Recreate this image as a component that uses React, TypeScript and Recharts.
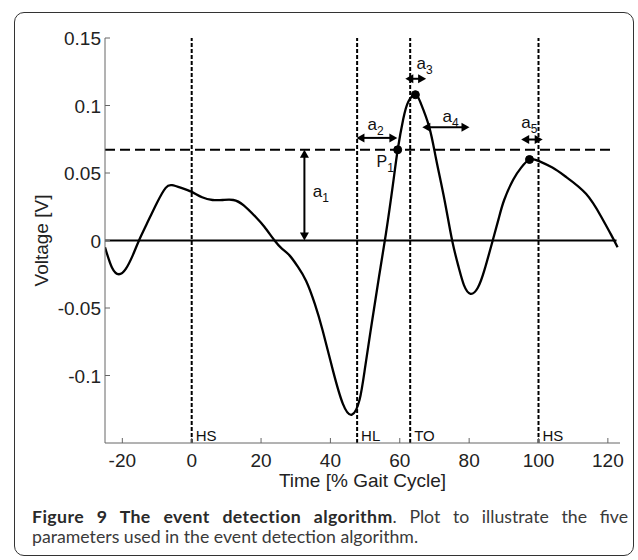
import React from "react";
import { ComposedChart, Line, XAxis, YAxis, ReferenceLine, ReferenceDot } from "recharts";

// gait signal
const timePct = [
  -25, -23, -21, -19, -17, -15.2, -13, -10, -7.5, -5.7, -3, 0, 3, 6, 9, 12, 15, 18.6, 21, 23.9,
  26, 28.2, 30.5, 33, 35.5, 37.8, 40.7, 43.6, 46.2, 48.4, 50, 52, 54, 56, 58, 59.4, 61, 62.5, 64.5,
  66, 68.5, 70.5, 72.9, 75.1, 77, 78.5, 80.4, 82.5, 84.4, 86.8, 88.5, 90.1, 92.7, 95, 97.4, 100,
  104, 108, 113.7, 118, 121, 122.8,
];
const voltage = [
  -0.005, -0.02, -0.025, -0.021, -0.011, 0, 0.012, 0.028, 0.039, 0.041, 0.039, 0.036, 0.032, 0.03,
  0.03, 0.03, 0.026, 0.017, 0.01, 0, -0.006, -0.011, -0.019, -0.03, -0.047, -0.067, -0.096, -0.121,
  -0.129, -0.118, -0.094, -0.06, -0.027, 0.005, 0.041, 0.0672, 0.09, 0.103, 0.108, 0.102, 0.084,
  0.06, 0.03, 0, -0.02, -0.033, -0.0395, -0.035, -0.022, 0, 0.016, 0.03, 0.045, 0.054, 0.06, 0.059,
  0.054, 0.047, 0.0346, 0.018, 0.004, -0.005,
];

const xTicks = [-20, 0, 20, 40, 60, 80, 100, 120];
const yTicks = [-0.1, -0.05, 0, 0.05, 0.1, 0.15];
const yTickLabels = ["-0.1", "-0.05", "0", "0.05", "0.1", "0.15"];

const eventTimes = [0, 47.7, 63, 100];
const eventNames = ["HS", "HL", "TO", "HS"];

const threshold = 0.0672;
const lineEnd = 122.5;
const thresholdEnd = 121.8;

// marked points: P1, main peak, second peak
const dotTimes = [59.4, 64.5, 97.4];
const dotVolts = [0.0672, 0.108, 0.06];

// double arrows a1..a5 (start / end in data units)
const arrowX1 = [32.5, 47.5, 61.6, 66.5, 95.0];
const arrowY1 = [0.0672, 0.076, 0.1198, 0.0839, 0.0748];
const arrowX2 = [32.5, 59.3, 67.6, 80.1, 101.2];
const arrowY2 = [0, 0.076, 0.1198, 0.0839, 0.0748];

// annotation texts
const labelMain = ["a", "a", "a", "a", "a", "P"];
const labelSub = ["1", "2", "3", "4", "5", "1"];
const labelTimes = [34.9, 50.7, 64.8, 72.3, 95.0, 53.3];
const labelVolts = [0.0319, 0.0815, 0.1274, 0.0875, 0.0837, 0.0541];

const data = timePct.map((t, i) => ({ t, v: voltage[i] }));

const FONT = "'Liberation Sans', Arial, sans-serif";

const XTick = (props: any) => {
  const { x, y, payload } = props;
  return (
    <g>
      <line x1={x} x2={x} y1={y} y2={y - 5} stroke="#666" />
      <text x={x} y={y + 24} textAnchor="middle" fontSize={19} fontFamily={FONT} fill="#222">
        {payload.value}
      </text>
    </g>
  );
};

const YTick = (props: any) => {
  const { x, y, index } = props;
  return (
    <g>
      <line x1={x} x2={x + 5} y1={y} y2={y} stroke="#666" />
      <text x={x - 4} y={y + 7} textAnchor="end" fontSize={19} fontFamily={FONT} fill="#222">
        {yTickLabels[index]}
      </text>
    </g>
  );
};

const Arrow = (props: any) => {
  const { x1, y1, x2, y2 } = props;
  const dx = x2 - x1;
  const dy = y2 - y1;
  const len = Math.hypot(dx, dy) || 1;
  const ux = dx / len;
  const uy = dy / len;
  const h = 8;
  const w = 4.5;
  const head = (tx: number, ty: number, sx: number, sy: number) => {
    const bx = tx - sx * h;
    const by = ty - sy * h;
    return `${tx},${ty} ${bx - sy * w},${by + sx * w} ${bx + sy * w},${by - sx * w}`;
  };
  return (
    <g>
      <line
        x1={x1 + ux * (h - 1)}
        y1={y1 + uy * (h - 1)}
        x2={x2 - ux * (h - 1)}
        y2={y2 - uy * (h - 1)}
        stroke="#000"
        strokeWidth={2}
      />
      <polygon points={head(x2, y2, ux, uy)} fill="#000" />
      <polygon points={head(x1, y1, -ux, -uy)} fill="#000" />
    </g>
  );
};

const SubLabel = (main: string, sub: string) => (props: any) => {
  const { cx, cy } = props;
  return (
    <text x={cx} y={cy} fontSize={main === "P" ? 16 : 17} fontFamily={FONT} fill="#111">
      {main}
      <tspan fontSize={12} dy={5}>
        {sub}
      </tspan>
    </text>
  );
};

const EventLabel = (name: string) => (props: any) => {
  const { viewBox } = props;
  return (
    <text
      x={viewBox.x + 4}
      y={viewBox.y + viewBox.height - 2}
      fontSize={15}
      fontFamily={FONT}
      fill="#111"
    >
      {name}
    </text>
  );
};

export default function App() {
  return (
    <div style={{ position: "absolute", left: 0, top: 0, width: 638, height: 560, background: "#fff" }}>
      <div
        style={{
          position: "absolute",
          left: 14,
          top: 12,
          width: 620,
          height: 544,
          boxSizing: "border-box",
          border: "1.5px solid #333",
          borderRadius: 10,
        }}
      />
      <div style={{ position: "absolute", left: 0, top: 0 }}>
        <ComposedChart
          width={638}
          height={500}
          data={data}
          margin={{ top: 38, right: 18, bottom: 0, left: 0 }}
        >
          <XAxis
            dataKey="t"
            type="number"
            domain={[-25, 123.5]}
            ticks={xTicks}
            allowDataOverflow
            height={57}
            tickSize={0}
            tickMargin={0}
            tick={<XTick />}
            axisLine={{ stroke: "#666" }}
            label={{
              content: (p: any) => (
                <text
                  x={p.viewBox.x + p.viewBox.width / 2}
                  y={p.viewBox.y + 44}
                  textAnchor="middle"
                  fontSize={19}
                  fontFamily={FONT}
                  fill="#222"
                >
                  Time [% Gait Cycle]
                </text>
              ),
            }}
          />
          <YAxis
            type="number"
            domain={[-0.15, 0.15]}
            ticks={yTicks}
            allowDataOverflow
            width={105}
            tickSize={0}
            tickMargin={0}
            tick={<YTick />}
            axisLine={{ stroke: "#666" }}
            label={{
              content: (p: any) => {
                const cy = p.viewBox.y + p.viewBox.height / 2;
                return (
                  <text
                    x={48}
                    y={cy}
                    transform={`rotate(-90, 48, ${cy})`}
                    textAnchor="middle"
                    fontSize={19}
                    fontFamily={FONT}
                    fill="#222"
                  >
                    Voltage [V]
                  </text>
                );
              },
            }}
          />
          <ReferenceLine
            segment={[
              { x: -25, y: 0 },
              { x: lineEnd, y: 0 },
            ]}
            stroke="#000"
            strokeWidth={2}
          />
          <ReferenceLine
            segment={[
              { x: -25, y: threshold },
              { x: thresholdEnd, y: threshold },
            ]}
            stroke="#000"
            strokeWidth={2}
            strokeDasharray="10 5"
          />
          {eventTimes.map((t, i) => (
            <ReferenceLine
              key={"ev" + i}
              x={t}
              stroke="#000"
              strokeWidth={2}
              strokeDasharray="4 2"
              label={{ content: EventLabel(eventNames[i]) }}
            />
          ))}
          <Line
            dataKey="v"
            type="natural"
            stroke="#000"
            strokeWidth={2.3}
            dot={false}
            isAnimationActive={false}
          />
          {arrowX1.map((x, i) => (
            <ReferenceLine
              key={"ar" + i}
              segment={[
                { x, y: arrowY1[i] },
                { x: arrowX2[i], y: arrowY2[i] },
              ]}
              shape={<Arrow />}
            />
          ))}
          {dotTimes.map((t, i) => (
            <ReferenceDot key={"d" + i} x={t} y={dotVolts[i]} r={4} fill="#000" stroke="#000" />
          ))}
          {labelTimes.map((t, i) => (
            <ReferenceDot
              key={"l" + i}
              x={t}
              y={labelVolts[i]}
              shape={SubLabel(labelMain[i], labelSub[i])}
            />
          ))}
        </ComposedChart>
      </div>
      <div
        style={{
          position: "absolute",
          left: 32,
          top: 507,
          width: 596,
          fontFamily: "Lato, 'Open Sans', sans-serif",
          fontSize: 17.7,
          lineHeight: "20px",
          color: "#3a3a3a",
        }}
      >
        <div style={{ textAlign: "justify", textAlignLast: "justify" }}>
          <b style={{ color: "#2a2a2a", letterSpacing: "0.4px" }}>
            Figure 9 The event detection algorithm
          </b>
          . Plot to illustrate the five
        </div>
        <div>parameters used in the event detection algorithm.</div>
      </div>
    </div>
  );
}
